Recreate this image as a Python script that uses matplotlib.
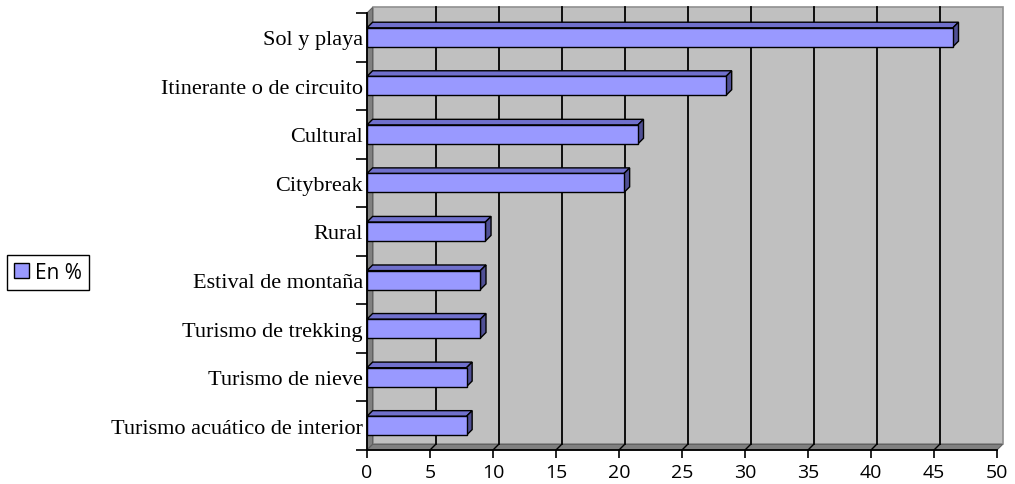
import numpy as np
import matplotlib.pyplot as plt
from matplotlib.patches import Polygon, Rectangle, Patch

categories = ['Turismo acuático de interior', 'Turismo de nieve', 'Turismo de trekking',
              'Estival de montaña', 'Rural', 'Citybreak', 'Cultural',
              'Itinerante o de circuito', 'Sol y playa']
values = [7.9, 7.9, 9.0, 9.0, 9.4, 20.4, 21.5, 28.5, 46.5]
xticks = [0, 5, 10, 15, 20, 25, 30, 35, 40, 45, 50]

front = '#9999ff'
top = '#7070cc'
side = '#505095'
wall = '#c0c0c0'
dark = '#808080'

W, H = 1015, 485
fig = plt.figure(figsize=(W / 100, H / 100), dpi=100)
ax = fig.add_axes([367 / W, 34 / H, (997 - 367) / W, (451 - 14) / H])

xmax = 50
n = len(categories)
ylo, yhi = -0.5, n - 0.5
dx = 5.6 / 12.6           # depth offset in x units
dy = 5.6 / ((451 - 14) / n)  # depth offset in category units
h = 0.39

# back wall
ax.add_patch(Rectangle((dx, ylo + dy), xmax, yhi - ylo, facecolor=wall,
                       edgecolor='#909090', lw=1.2, clip_on=False, zorder=1))
# side wall and floor
ax.add_patch(Polygon([(0, ylo), (dx, ylo + dy), (dx, yhi + dy), (0, yhi)],
                     closed=True, facecolor=dark, edgecolor='#606060', lw=0.8,
                     clip_on=False, zorder=1))
ax.add_patch(Polygon([(0, ylo), (xmax, ylo), (xmax + dx, ylo + dy), (dx, ylo + dy)],
                     closed=True, facecolor=dark, edgecolor='#606060', lw=0.8,
                     clip_on=False, zorder=1))
# gridlines on the wall and floor
for t in xticks[1:-1]:
    ax.plot([t + dx, t + dx], [ylo + dy, yhi + dy], color='black', lw=1.3,
            clip_on=False, zorder=2)
    ax.plot([t, t + dx], [ylo, ylo + dy], color='black', lw=1.0,
            clip_on=False, zorder=2)

# 3d bars
for i, v in enumerate(values):
    y0, y1 = i - h / 2, i + h / 2
    ax.add_patch(Polygon([(0, y1), (v, y1), (v + dx, y1 + dy), (dx, y1 + dy)],
                         closed=True, facecolor=top, edgecolor='black', lw=1.0,
                         clip_on=False, zorder=3))
    ax.add_patch(Polygon([(v, y0), (v + dx, y0 + dy), (v + dx, y1 + dy), (v, y1)],
                         closed=True, facecolor=side, edgecolor='black', lw=1.0,
                         clip_on=False, zorder=3))
    ax.add_patch(Rectangle((0, y0), v, h, facecolor=front, edgecolor='black',
                           lw=1.0, clip_on=False, zorder=4))

ax.set_xlim(0, xmax)
ax.set_ylim(ylo, yhi)
ax.set_facecolor('none')
for s in ['top', 'right']:
    ax.spines[s].set_visible(False)
for s in ['left', 'bottom']:
    ax.spines[s].set_linewidth(1.3)
    ax.spines[s].set_zorder(5)

ax.set_xticks(xticks)
ax.set_xticklabels([str(t) for t in xticks], family='Open Sans', fontsize=14)
ax.tick_params(axis='x', length=6, width=1.2, pad=3.5)

ax.set_yticks(np.arange(ylo, yhi + 0.01, 1.0))
ax.set_yticklabels([])
ax.tick_params(axis='y', which='major', length=8, width=1.2)
ax.set_yticks(np.arange(n), minor=True)
ax.set_yticklabels(categories, minor=True, family='Liberation Serif', fontsize=16)
ax.tick_params(axis='y', which='minor', length=0, pad=3)
for lab in ax.get_yticklabels(minor=True):
    lab.set_zorder(6)

leg = fig.legend(handles=[Patch(facecolor=front, edgecolor='black', lw=1.0)],
                 labels=['En %'], loc='center left',
                 bbox_to_anchor=(7 / W, 1 - 273.5 / H), frameon=True,
                 fancybox=False, edgecolor='black', framealpha=1,
                 prop={'family': 'Open Sans', 'size': 15},
                 handlelength=0.7, handleheight=0.7, handletextpad=0.3,
                 borderpad=0.35, borderaxespad=0)
leg.get_frame().set_linewidth(1.0)

fig.savefig('out.png', dpi=100)
